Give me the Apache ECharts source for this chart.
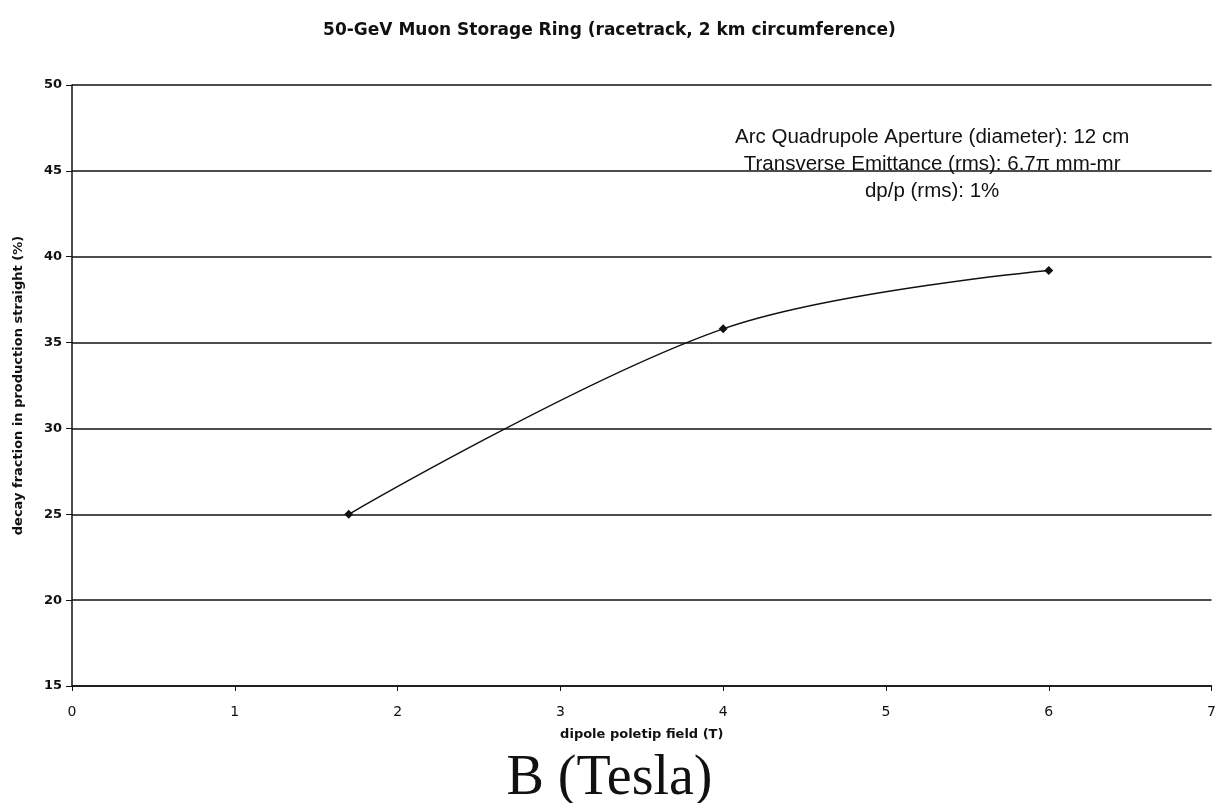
<!DOCTYPE html>
<html>
<head>
<meta charset="utf-8">
<script src="https://cdn.jsdelivr.net/npm/echarts@6/dist/echarts.min.js"></script>
<style>
  html, body { margin: 0; padding: 0; background: #fff; }
  #chart { width: 1219px; height: 803px; }
</style>
</head>
<body>
<div id="chart"></div>
<script>
// Dipole poletip field (T) and decay fraction in the production straight (%)
const fieldT = [1.7, 4.0, 6.0];
const decayFraction = [25.0, 35.8, 39.2];

const titleText = '50-GeV Muon Storage Ring (racetrack, 2 km circumference)';
const xName = 'dipole poletip field (T)';
const yName = 'decay fraction in production straight (%)';
const noteLines = [
  'Arc Quadrupole Aperture (diameter): 12 cm',
  'Transverse Emittance (rms): 6.7\u03C0 mm-mr',
  'dp/p (rms): 1%'
];
const caption = 'B (Tesla)';

const sans = 'DejaVu Sans, Verdana, sans-serif';

const chart = echarts.init(document.getElementById('chart'));
chart.setOption({
  backgroundColor: '#ffffff',
  animation: false,
  title: {
    text: titleText,
    left: 'center',
    top: 17,
    textStyle: { fontFamily: sans, fontWeight: 'bold', fontSize: 17, color: '#111' }
  },
  grid: { left: 72, right: 7, top: 85, bottom: 117 },
  xAxis: {
    type: 'value',
    min: 0, max: 7, interval: 1,
    name: xName,
    nameLocation: 'middle',
    nameGap: 42,
    nameTextStyle: { fontFamily: sans, fontSize: 13, fontWeight: 'bold', color: '#111' },
    axisLine: { lineStyle: { color: '#111', width: 1.5 } },
    axisTick: { show: true, length: 5, lineStyle: { color: '#111' } },
    axisLabel: { margin: 19, fontFamily: sans, fontSize: 14, color: '#111' },
    splitLine: { show: false }
  },
  yAxis: {
    type: 'value',
    min: 15, max: 50, interval: 5,
    name: yName,
    nameLocation: 'middle',
    nameGap: 47,
    nameTextStyle: { fontFamily: sans, fontSize: 13, fontWeight: 'bold', color: '#111' },
    axisLine: { show: true, lineStyle: { color: '#111', width: 1.5 } },
    axisTick: { show: true, length: 6, lineStyle: { color: '#111' } },
    axisLabel: { margin: 10, fontFamily: sans, fontSize: 13, fontWeight: 'bold', color: '#111' },
    splitLine: { show: true, lineStyle: { color: '#111', width: 1.5 } }
  },
  graphic: [
    {
      type: 'text',
      left: 735,
      top: 124,
      style: {
        text: noteLines.join('\n'),
        textAlign: 'center',
        x: 200,
        fontFamily: 'Liberation Sans, Arial, sans-serif',
        fontSize: 20.5,
        lineHeight: 27,
        fill: '#111'
      }
    },
    {
      type: 'text',
      left: 'center',
      top: 751,
      style: {
        text: caption,
        fontFamily: 'Liberation Serif, Times New Roman, serif',
        fontSize: 56,
        fill: '#111'
      }
    }
  ],
  series: [{
    type: 'line',
    data: fieldT.map((x, i) => [x, decayFraction[i]]),
    smooth: 0.35,
    symbol: 'diamond',
    symbolSize: 9,
    itemStyle: { color: '#111' },
    lineStyle: { color: '#111', width: 1.5 }
  }]
});
</script>
</body>
</html>
